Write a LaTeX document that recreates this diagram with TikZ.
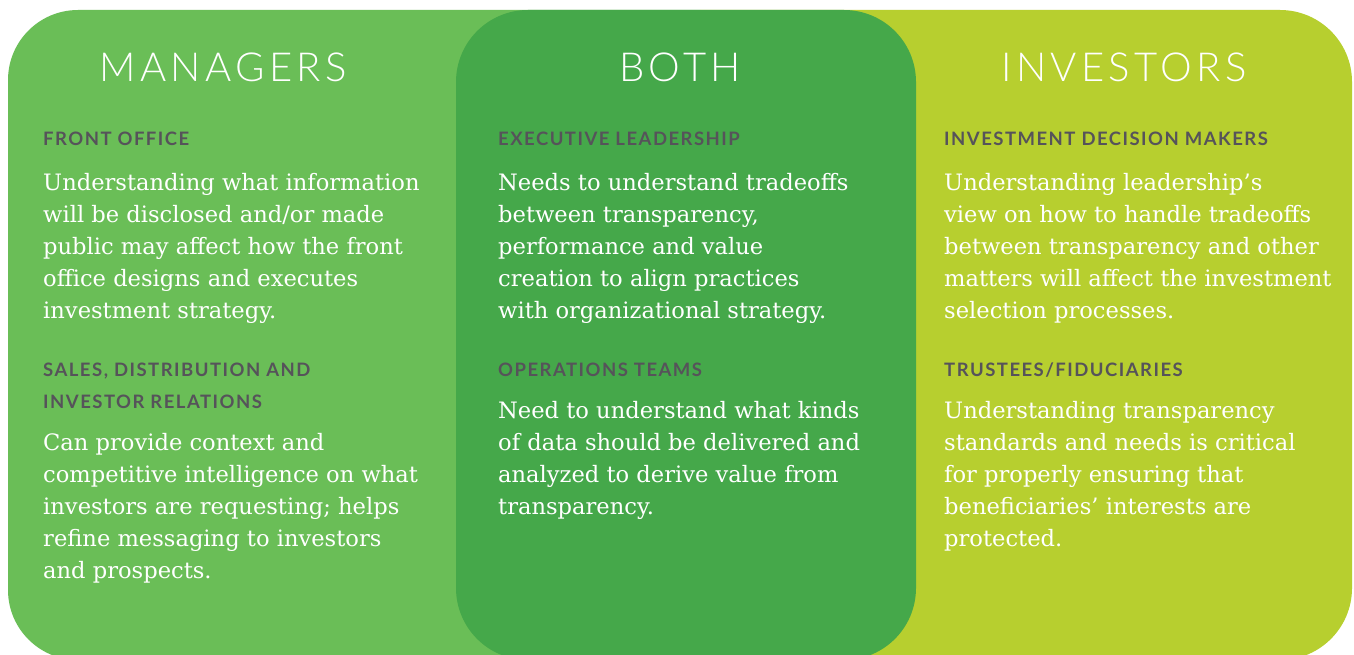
\documentclass[tikz,border=0pt]{standalone}
\usepackage{fontspec}
\setmainfont{DejaVu Serif}
\newfontfamily\titlefont{Lato Light}[LetterSpace=11]
\newfontfamily\headfont{Lato Bold}[LetterSpace=8]
\definecolor{mgrgreen}{HTML}{6ABE57}
\definecolor{bothgreen}{HTML}{45A84A}
\definecolor{invgreen}{HTML}{B7CF2F}
\definecolor{headgray}{HTML}{56535A}
\begin{document}
\begin{tikzpicture}[x=1pt,y=-1pt,
  paneltitle/.style={font=\titlefont\fontsize{40}{40}\selectfont, text=white, inner sep=0pt, anchor=base},
  headtext/.style={font=\headfont\fontsize{18.5}{32}\selectfont, text=headgray, inner sep=0pt, anchor=base west, align=left},
  bodytext/.style={font=\fontsize{22.6}{32}\selectfont, text=white, inner sep=0pt, anchor=base west, align=left}]
\useasboundingbox (0,0) rectangle (1354,655);
\fill[white] (0,0) rectangle (1354,655);
% panels
\fill[mgrgreen] (700,10) [rounded corners=70pt] -- (8,10) -- (8,660) [sharp corners] -- (700,660) -- cycle;
\fill[invgreen] (700,10) [rounded corners=72pt] -- (1352,10) -- (1352,660) [sharp corners] -- (700,660) -- cycle;
\fill[bothgreen, rounded corners=72pt] (456,10) rectangle (916,660);
% titles
\node[paneltitle] (tm) at (223,82) {MANAGERS};
\node[paneltitle] (tb) at (680,82) {BOTH};
\node[paneltitle] (ti) at (1124,82) {INVESTORS};
% managers (multi-line nodes: base = last line)
\node[headtext] (h1) at (43,146) {FRONT OFFICE};
\node[bodytext] (b1) at (43,318) {Understanding what information\\will be disclosed and/or made\\public may affect how the front\\office designs and executes\\investment strategy.};
\node[headtext] (h2) at (43,408) {SALES, DISTRIBUTION AND\\INVESTOR RELATIONS};
\node[bodytext] (b2) at (43,578) {Can provide context and\\competitive intelligence on what\\investors are requesting; helps\\refine messaging to investors\\and prospects.};
% both
\node[headtext] (h3) at (498,146) {EXECUTIVE LEADERSHIP};
\node[bodytext] (b3) at (498,318) {Needs to understand tradeoffs\\between transparency,\\performance and value\\creation to align practices\\with organizational strategy.};
\node[headtext] (h4) at (498,376) {OPERATIONS TEAMS};
\node[bodytext] (b4) at (498,514) {Need to understand what kinds\\of data should be delivered and\\analyzed to derive value from\\transparency.};
% investors
\node[headtext] (h5) at (944,146) {INVESTMENT DECISION MAKERS};
\node[bodytext] (b5) at (944,318) {Understanding leadership’s\\view on how to handle tradeoffs\\between transparency and other\\matters will affect the investment\\selection processes.};
\node[headtext] (h6) at (944,376) {TRUSTEES/FIDUCIARIES};
\node[bodytext] (b6) at (944,546) {Understanding transparency\\standards and needs is critical\\for properly ensuring that\\beneficiaries’ interests are\\protected.};
\end{tikzpicture}
\end{document}
